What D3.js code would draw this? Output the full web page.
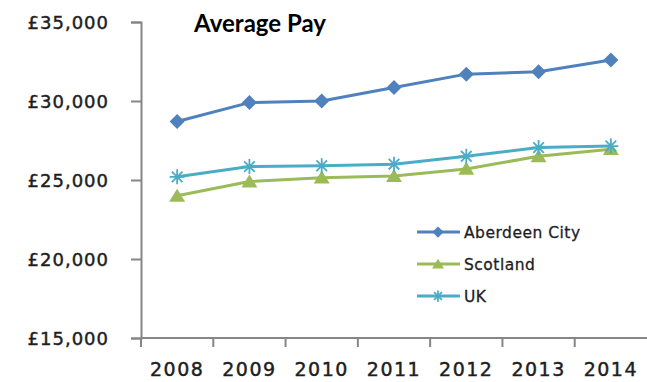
<!DOCTYPE html>
<html>
<head>
<meta charset="utf-8">
<script src="https://cdn.jsdelivr.net/npm/d3@7"></script>
<style>
  html, body { margin: 0; padding: 0; background: #fff; }
  svg { display: block; }
</style>
</head>
<body>
<svg id="chart" width="647" height="382"></svg>
<script>
// Average pay by year, 2008-2014
const years = ["2008", "2009", "2010", "2011", "2012", "2013", "2014"];
const aberdeenCity = [28700, 29900, 30000, 30850, 31700, 31850, 32600];
const scotland = [24000, 24900, 25150, 25250, 25700, 26500, 26950];
const uk = [25200, 25850, 25900, 26000, 26500, 27050, 27150];
const yTicks = [15000, 20000, 25000, 30000, 35000];

const series = [
  { name: "Aberdeen City", values: aberdeenCity, color: "#4F81BD", marker: "diamond" },
  { name: "Scotland", values: scotland, color: "#9BBB59", marker: "triangle" },
  { name: "UK", values: uk, color: "#4BACC6", marker: "star" }
];

const svg = d3.select("#chart");
const plot = { left: 141, right: 647, top: 22, bottom: 338 };

const x = d3.scaleBand().domain(years).range([plot.left, plot.right]).padding(0);
const y = d3.scaleLinear().domain([15000, 35000]).range([plot.bottom, plot.top]);
const fmt = v => "£" + d3.format(",")(v);

const axisColor = "#868686";
const textColor = "#1e1e1e";
const labelFont = "'DejaVu Sans', Verdana, sans-serif";

// Slightly heavier label strokes
function heavy(sel, w) {
  return sel.attr("fill", textColor).attr("stroke", textColor).attr("stroke-width", w);
}

// Y axis
const yAxis = svg.append("g")
  .attr("transform", `translate(${plot.left},0)`)
  .call(d3.axisLeft(y).tickValues(yTicks).tickFormat(fmt).tickSize(10).tickPadding(22));
yAxis.select(".domain").attr("stroke", axisColor).attr("stroke-width", 2);
yAxis.selectAll(".tick line").attr("stroke", axisColor).attr("stroke-width", 2);
heavy(yAxis.selectAll(".tick text"), 0.45)
  .style("font-family", labelFont)
  .style("font-size", "18px")
  .style("letter-spacing", "1px")
  .attr("dy", "0.36em");

// X axis (ticks sit between categories)
const xAxis = svg.append("g").attr("transform", `translate(0,${plot.bottom})`);
xAxis.append("line")
  .attr("x1", plot.left).attr("x2", plot.right)
  .attr("stroke", axisColor).attr("stroke-width", 2);
xAxis.selectAll("line.tk")
  .data(years)
  .join("line")
  .attr("class", "tk")
  .attr("x1", d => x(d)).attr("x2", d => x(d))
  .attr("y1", 0).attr("y2", 9)
  .attr("stroke", axisColor).attr("stroke-width", 2);
heavy(xAxis.selectAll("text")
  .data(years)
  .join("text")
  .attr("x", d => x(d) + x.bandwidth() / 2)
  .attr("y", 38)
  .attr("text-anchor", "middle"), 0.45)
  .style("font-family", labelFont)
  .style("font-size", "19px")
  .style("letter-spacing", "1.5px")
  .text(d => d);

// Title
svg.append("text")
  .attr("x", 260).attr("y", 32)
  .attr("text-anchor", "middle")
  .style("font-family", "Lato, 'Open Sans', sans-serif")
  .style("font-weight", "bold")
  .style("font-size", "24px")
  .attr("fill", "#000")
  .text("Average Pay");

// Marker shapes
function drawMarker(g, type, color, cx, cy, scale = 1) {
  if (type === "diamond") {
    const r = 7.5 * scale;
    g.append("path")
      .attr("d", `M${cx},${cy - r}L${cx + r},${cy}L${cx},${cy + r}L${cx - r},${cy}Z`)
      .attr("fill", color);
  } else if (type === "triangle") {
    const w = 8 * scale, h = 13 * scale;
    g.append("path")
      .attr("d", `M${cx},${cy - h * 0.55}L${cx + w},${cy + h * 0.45}L${cx - w},${cy + h * 0.45}Z`)
      .attr("fill", color);
  } else {
    const r = 7.5 * scale;
    const d = r * Math.SQRT1_2;
    g.append("path")
      .attr("d", `M${cx - r},${cy}L${cx + r},${cy}M${cx},${cy - r}L${cx},${cy + r}` +
                 `M${cx - d},${cy - d}L${cx + d},${cy + d}M${cx - d},${cy + d}L${cx + d},${cy - d}`)
      .attr("stroke", color).attr("stroke-width", 1.8).attr("fill", "none");
  }
}

const line = d3.line()
  .x((v, i) => x(years[i]) + x.bandwidth() / 2)
  .y(v => y(v));

series.forEach(s => {
  const g = svg.append("g");
  g.append("path")
    .attr("d", line(s.values))
    .attr("fill", "none")
    .attr("stroke", s.color)
    .attr("stroke-width", 3)
    .attr("stroke-linejoin", "round");
  s.values.forEach((v, i) => {
    drawMarker(g, s.marker, s.color, x(years[i]) + x.bandwidth() / 2, y(v));
  });
});

// Legend
const legend = svg.append("g");
const legendY = [232, 264, 296];
series.forEach((s, i) => {
  const ly = legendY[i];
  legend.append("line")
    .attr("x1", 417).attr("x2", 460)
    .attr("y1", ly).attr("y2", ly)
    .attr("stroke", s.color).attr("stroke-width", 3);
  drawMarker(legend, s.marker, s.color, 438, ly, 0.75);
  heavy(legend.append("text")
    .attr("x", 464).attr("y", ly)
    .attr("dy", "0.36em"), 0.3)
    .style("font-family", labelFont)
    .style("font-size", "15.5px")
    .style("letter-spacing", "0.5px")
    .text(s.name);
});
</script>
</body>
</html>
